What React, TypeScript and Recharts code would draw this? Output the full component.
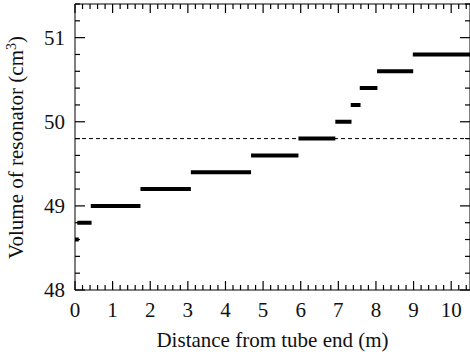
import { LineChart, Line, XAxis, YAxis, ReferenceLine } from 'recharts';

// step levels of the resonator volume (cm3) and where each one starts / ends (m)
const levels = [48.6, 48.8, 49.0, 49.2, 49.4, 49.6, 49.8, 50.0, 50.2, 50.4, 50.6, 50.8];
const segStart = [0, 0.06, 0.42, 1.74, 3.08, 4.68, 5.94, 6.92, 7.33, 7.57, 8.03, 8.98];
const segEnd = [0.1, 0.44, 1.74, 3.08, 4.68, 5.94, 6.92, 7.35, 7.59, 8.04, 8.99, 10.5];
const refLevel = 49.8;

const xLabelTicks = [0, 1, 2, 3, 4, 5, 6, 7, 8, 9, 10];
const yLabelTicks = [48, 49, 50, 51];
const xTicks = Array.from({ length: 53 }, (_, i) => Math.round(i * 2) / 10);
const yTicks = Array.from({ length: 18 }, (_, i) => Math.round(480 + i * 2) / 10);

const X_DOMAIN: [number, number] = [0, 10.5];
const Y_DOMAIN: [number, number] = [48, 51.4];

const FONT = '"Liberation Serif", "Times New Roman", serif';
const tickFont = { fontFamily: FONT, fontSize: 21, fill: '#111' };

// inward tick lengths, in axis units (about 9px / 5px)
const X_MAJOR_LEN = 0.107;
const X_MINOR_LEN = 0.06;
const Y_MAJOR_LEN = 0.266;
const Y_MINOR_LEN = 0.133;

const isMajor = (v: number) => Math.abs(v - Math.round(v)) < 1e-6;

// segments separated by null so the line breaks between steps
const data: { x: number; v: number | null }[] = [];
levels.forEach((lv, i) => {
  data.push({ x: segStart[i], v: lv });
  data.push({ x: segEnd[i], v: lv });
  data.push({ x: segEnd[i], v: null });
});

const tickSegments: { x: number; y: number }[][] = [];
xTicks.forEach((t) => {
  const len = isMajor(t) ? X_MAJOR_LEN : X_MINOR_LEN;
  tickSegments.push([{ x: t, y: Y_DOMAIN[0] }, { x: t, y: Y_DOMAIN[0] + len }]);
  tickSegments.push([{ x: t, y: Y_DOMAIN[1] - len }, { x: t, y: Y_DOMAIN[1] }]);
});
yTicks.forEach((t) => {
  const len = isMajor(t) ? Y_MAJOR_LEN : Y_MINOR_LEN;
  tickSegments.push([{ x: X_DOMAIN[0], y: t }, { x: X_DOMAIN[0] + len, y: t }]);
  tickSegments.push([{ x: X_DOMAIN[1] - len, y: t }, { x: X_DOMAIN[1], y: t }]);
});

const titleStyle = {
  position: 'absolute' as const,
  fontFamily: FONT,
  fontSize: 21,
  lineHeight: '21px',
  color: '#111',
  textAlign: 'center' as const,
  whiteSpace: 'nowrap' as const,
};

export default function App() {
  return (
    <div style={{ position: 'absolute', left: 0, top: 0, width: 470, height: 355, background: '#fff', overflow: 'hidden' }}>
      <LineChart width={470} height={355} data={data} margin={{ top: 3, right: -1, bottom: 0, left: 0 }}>
        <XAxis
          xAxisId="bottom"
          dataKey="x"
          type="number"
          orientation="bottom"
          domain={X_DOMAIN}
          allowDataOverflow
          ticks={xLabelTicks}
          interval={0}
          height={65}
          tickSize={0}
          tickMargin={12}
          tickLine={false}
          tick={tickFont}
          axisLine={{ stroke: '#000' }}
        />
        <XAxis
          xAxisId="top"
          dataKey="x"
          type="number"
          orientation="top"
          domain={X_DOMAIN}
          allowDataOverflow
          height={1}
          tick={false}
          tickLine={false}
          axisLine={{ stroke: '#000' }}
        />
        <YAxis
          yAxisId="left"
          type="number"
          orientation="left"
          domain={Y_DOMAIN}
          allowDataOverflow
          ticks={yLabelTicks}
          interval={0}
          width={75}
          tickSize={0}
          tickMargin={10}
          tickLine={false}
          tick={tickFont}
          axisLine={{ stroke: '#000' }}
        />
        <YAxis
          yAxisId="right"
          type="number"
          orientation="right"
          domain={Y_DOMAIN}
          allowDataOverflow
          width={1}
          tick={false}
          tickLine={false}
          axisLine={{ stroke: '#000' }}
        />
        {tickSegments.map((seg, i) => (
          <ReferenceLine
            key={'tk' + i}
            xAxisId="bottom"
            yAxisId="left"
            segment={seg}
            stroke="#000"
            strokeWidth={1.2}
          />
        ))}
        <ReferenceLine
          xAxisId="bottom"
          yAxisId="left"
          y={refLevel}
          stroke="#000"
          strokeWidth={1}
          strokeDasharray="4 3"
        />
        <Line
          xAxisId="bottom"
          yAxisId="left"
          dataKey="v"
          stroke="#000"
          strokeWidth={4}
          dot={false}
          connectNulls={false}
          isAnimationActive={false}
        />
        <Line
          xAxisId="top"
          yAxisId="right"
          dataKey="v"
          stroke="none"
          dot={false}
          legendType="none"
          isAnimationActive={false}
        />
      </LineChart>
      <div style={{ ...titleStyle, left: 75, top: 330, width: 395 }}>Distance from tube end (m)</div>
      <div
        style={{
          ...titleStyle,
          left: -126.6,
          top: 136.5,
          width: 286,
          height: 21,
          transform: 'rotate(-90deg)',
        }}
      >
        Volume of resonator (cm<span style={{ fontSize: 14, verticalAlign: '0.45em', lineHeight: 0 }}>3</span>)
      </div>
    </div>
  );
}
